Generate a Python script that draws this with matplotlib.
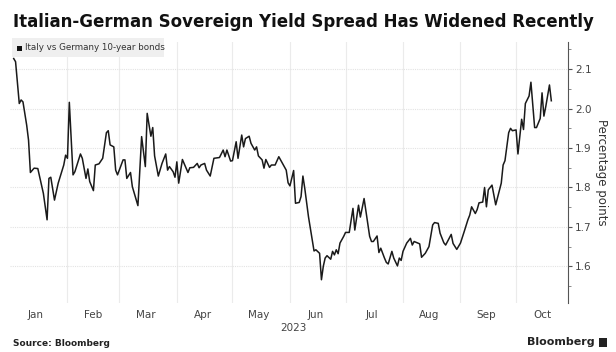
import numpy as np
import pandas as pd
import matplotlib
matplotlib.use("Agg")
import matplotlib.pyplot as plt
import matplotlib.dates as mdates
from matplotlib.patches import Rectangle

# Italy vs Germany 10-year spread (percentage points)
# day_offset = days since 2023-01-01
day_offset = [2, 3, 5, 6, 7, 9, 10, 11, 13, 15, 18, 20, 21, 22, 24, 26, 29, 30, 31, 32,
              34, 35, 38, 39, 41, 42, 43, 45, 46, 48, 50, 52, 53, 54, 56, 57, 58, 61, 62, 63,
              65, 66, 69, 71, 73, 74, 76, 77, 78, 80, 82, 84, 85, 86, 88, 89, 90, 91, 93, 94,
              96, 97, 99, 101, 102, 103, 105, 106, 108, 110, 113, 115, 116, 117, 119, 120, 122, 123, 125, 126,
              127, 129, 130, 132, 133, 134, 136, 137, 138, 140, 141, 143, 145, 147, 149, 150, 151, 153, 154, 156,
              157, 158, 159, 161, 164, 165, 167, 168, 169, 170, 171, 173, 174, 175, 176, 177, 178, 180, 181, 183,
              185, 186, 188, 189, 191, 194, 195, 196, 198, 199, 200, 202, 203, 204, 206, 207, 209, 210, 211, 212,
              214, 216, 217, 218, 221, 222, 224, 226, 228, 229, 231, 232, 234, 235, 238, 239, 241, 242, 243, 245,
              247, 248, 249, 251, 252, 253, 255, 256, 257, 258, 260, 261, 262, 265, 266, 267, 269, 270, 271, 273,
              274, 276, 277, 278, 280, 281, 283, 284, 286, 287, 288, 289, 291, 292]
spread = [2.127, 2.119, 2.013, 2.022, 2.017, 1.958, 1.920, 1.838, 1.849, 1.848, 1.785, 1.718, 1.823, 1.826, 1.768, 1.811, 1.857, 1.882, 1.874, 2.016,
          1.832, 1.840, 1.885, 1.874, 1.823, 1.847, 1.815, 1.792, 1.857, 1.860, 1.874, 1.939, 1.944, 1.908, 1.903, 1.844, 1.832, 1.870, 1.870, 1.823,
          1.838, 1.802, 1.754, 1.929, 1.853, 1.988, 1.930, 1.952, 1.880, 1.829, 1.861, 1.885, 1.844, 1.853, 1.840, 1.826, 1.865, 1.811, 1.871, 1.860,
          1.838, 1.850, 1.851, 1.861, 1.850, 1.857, 1.861, 1.844, 1.829, 1.874, 1.876, 1.895, 1.878, 1.895, 1.867, 1.868, 1.916, 1.874, 1.933, 1.903,
          1.924, 1.930, 1.912, 1.895, 1.903, 1.880, 1.870, 1.849, 1.871, 1.851, 1.857, 1.857, 1.878, 1.861, 1.844, 1.812, 1.804, 1.843, 1.760, 1.762,
          1.777, 1.829, 1.798, 1.726, 1.639, 1.642, 1.633, 1.566, 1.600, 1.621, 1.627, 1.618, 1.638, 1.629, 1.642, 1.632, 1.659, 1.676, 1.686, 1.686,
          1.747, 1.692, 1.755, 1.725, 1.772, 1.676, 1.663, 1.663, 1.677, 1.635, 1.646, 1.621, 1.610, 1.606, 1.638, 1.621, 1.601, 1.621, 1.615, 1.638,
          1.659, 1.671, 1.654, 1.663, 1.657, 1.623, 1.633, 1.650, 1.705, 1.711, 1.709, 1.684, 1.660, 1.654, 1.681, 1.658, 1.643, 1.651, 1.659, 1.688,
          1.718, 1.730, 1.751, 1.734, 1.744, 1.761, 1.763, 1.800, 1.751, 1.794, 1.806, 1.781, 1.756, 1.811, 1.857, 1.868, 1.939, 1.950, 1.944, 1.946,
          1.885, 1.973, 1.947, 2.013, 2.032, 2.067, 1.952, 1.952, 1.975, 2.040, 1.981, 2.005, 2.060, 2.020]

dates = pd.Timestamp("2023-01-01") + pd.to_timedelta(day_offset, unit="D")

title = "Italian-German Sovereign Yield Spread Has Widened Recently"
series_name = "Italy vs Germany 10-year bonds"
y_ticks = [1.6, 1.7, 1.8, 1.9, 2.0, 2.1]

fig = plt.figure(figsize=(6.16, 3.52), dpi=100)
ax = fig.add_axes([10 / 616, 1 - 303 / 352, 558 / 616, 261 / 352])

ax.plot(dates, spread, color="#1a1a1a", lw=1.1)

ax.set_xlim(pd.Timestamp("2023-01-01"), pd.Timestamp("2023-10-29"))
ax.set_ylim(1.507, 2.169)

# month starts -> gridlines, mid-month -> labels
ax.xaxis.set_major_locator(mdates.MonthLocator(bymonth=range(2, 11)))
ax.xaxis.set_major_formatter(plt.NullFormatter())
ax.xaxis.set_minor_locator(mdates.MonthLocator(bymonthday=15))
ax.xaxis.set_minor_formatter(mdates.DateFormatter("%b"))
ax.tick_params(axis="x", which="major", length=0)
ax.tick_params(axis="x", which="minor", length=0, labelsize=7.5, labelcolor="#444444", pad=5)

ax.yaxis.tick_right()
ax.yaxis.set_label_position("right")
ax.set_yticks(y_ticks)
ax.set_yticklabels([f"{v:.1f}" for v in y_ticks])
ax.set_yticks(np.arange(1.55, 2.16, 0.1), minor=True)
ax.tick_params(axis="y", which="major", length=3, color="#555555", labelsize=7.5, labelcolor="#444444", pad=2)
ax.tick_params(axis="y", which="minor", length=2, color="#777777")
ax.set_ylabel("Percentage points", rotation=270, labelpad=12, fontsize=8.5, color="#333333")

ax.grid(axis="y", which="major", color="#e3e3e3", lw=0.8, ls=(0, (1, 1)))
ax.grid(axis="x", which="major", color="#ebebeb", lw=0.8)
for s in ["top", "left", "bottom"]:
    ax.spines[s].set_visible(False)
ax.spines["right"].set_color("#555555")
ax.spines["right"].set_linewidth(0.8)

# year label under the months
fig.text(293 / 616, 1 - 328 / 352, "2023", ha="center", va="center", fontsize=7.5, color="#444444")

# legend box
fig.patches.append(Rectangle((12 / 616, 1 - 57 / 352), 152 / 616, 19 / 352,
                             transform=fig.transFigure, facecolor="#efefef", edgecolor="none", zorder=5))
fig.patches.append(Rectangle((17 / 616, 1 - 51 / 352), 5 / 616, 5 / 352,
                             transform=fig.transFigure, facecolor="#111111", edgecolor="none", zorder=6))
fig.text(25 / 616, 1 - 48 / 352, series_name, ha="left", va="center", fontsize=6.3, color="#333333", zorder=7)

fig.text(13 / 616, 1 - 22 / 352, title, ha="left", va="center", fontsize=12.0, fontweight="bold", color="#111111")
fig.text(13 / 616, 1 - 344 / 352, "Source: Bloomberg", ha="left", va="center", fontsize=6.5, fontweight="bold", color="#222222")
fig.text(595 / 616, 1 - 342 / 352, "Bloomberg", ha="right", va="center", fontsize=8, fontweight="bold", color="#222222")
fig.patches.append(Rectangle((599 / 616, 1 - 347 / 352), 8 / 616, 9 / 352,
                             transform=fig.transFigure, facecolor="#222222", edgecolor="none"))

fig.savefig("out.png", dpi=100)
